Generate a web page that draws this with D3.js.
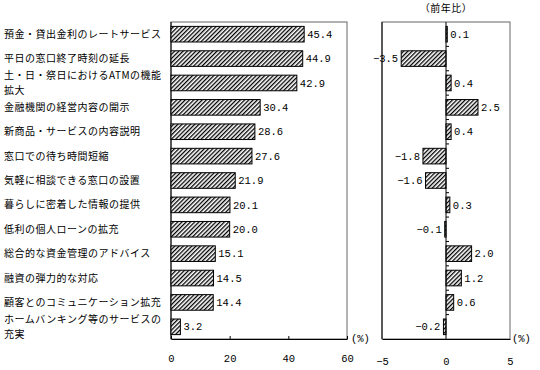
<!DOCTYPE html>
<html>
<head>
<meta charset="utf-8">
<script src="https://cdn.jsdelivr.net/npm/d3@7"></script>
<style>
  body { margin: 0; background: #fff; }
  .cat { font-family: "Noto Sans CJK JP", sans-serif; font-size: 10px; letter-spacing: 0.5px; }
  .num { font-family: "Liberation Mono", "DejaVu Sans Mono", monospace; font-size: 10.5px; }
</style>
</head>
<body>
<svg id="chart" width="540" height="370"></svg>
<script>
// categories (multi-line labels split into lines)
const categories = [
  ["預金・貸出金利のレートサービス"],
  ["平日の窓口終了時刻の延長"],
  ["土・日・祭日におけるATMの機能", "拡大"],
  ["金融機関の経営内容の開示"],
  ["新商品・サービスの内容説明"],
  ["窓口での待ち時間短縮"],
  ["気軽に相談できる窓口の設置"],
  ["暮らしに密着した情報の提供"],
  ["低利の個人ローンの拡充"],
  ["総合的な資金管理のアドバイス"],
  ["融資の弾力的な対応"],
  ["顧客とのコミュニケーション拡充"],
  ["ホームバンキング等のサービスの", "充実"]
];
const shares = [45.4, 44.9, 42.9, 30.4, 28.6, 27.6, 21.9, 20.1, 20.0, 15.1, 14.5, 14.4, 3.2];
const changes = [0.1, -3.5, 0.4, 2.5, 0.4, -1.8, -1.6, 0.3, -0.1, 2.0, 1.2, 0.6, -0.2];
const leftTicks = [0, 20, 40, 60];
const rightTicks = [-5, 0, 5];

const svg = d3.select("#chart");
const plotTop = 22, plotBottom = 339;
const idx = d3.range(categories.length);
const lineGap = 14.6;

// hatch pattern
svg.append("defs").append("pattern")
  .attr("id", "hatch")
  .attr("patternUnits", "userSpaceOnUse")
  .attr("width", 3).attr("height", 3)
  .attr("patternTransform", "rotate(45)")
  .call(p => {
    p.append("rect").attr("width", 3).attr("height", 3).attr("fill", "#fff");
    p.append("rect").attr("width", 1.3).attr("height", 3).attr("fill", "#000");
  });

const y = d3.scaleBand().domain(idx).range([plotTop, plotBottom]).paddingInner(0.36).paddingOuter(0.18);

// ---- left chart
const x1 = d3.scaleLinear().domain([0, 60]).range([171, 347]);

svg.append("rect")
  .attr("x", x1(0)).attr("y", plotTop)
  .attr("width", x1(60) - x1(0)).attr("height", plotBottom - plotTop)
  .attr("fill", "none").attr("stroke", "#666").attr("stroke-width", 1);

svg.append("g")
  .attr("transform", "translate(0," + plotBottom + ")")
  .call(d3.axisBottom(x1).tickValues(leftTicks).tickSizeInner(-3).tickSizeOuter(0).tickPadding(16))
  .call(g => g.select(".domain").attr("stroke", "#000"))
  .call(g => g.selectAll("text").attr("class", "num").attr("font-size", null).attr("font-family", null).attr("fill", "#000"));

svg.append("line")
  .attr("x1", x1(0)).attr("x2", x1(0)).attr("y1", plotTop).attr("y2", plotBottom)
  .attr("stroke", "#000");

svg.selectAll(".bar1")
  .data(idx)
  .enter()
  .append("rect")
  .attr("x", x1(0))
  .attr("y", i => y(i))
  .attr("width", i => x1(shares[i]) - x1(0))
  .attr("height", y.bandwidth())
  .attr("fill", "url(#hatch)")
  .attr("stroke", "#000")
  .attr("stroke-width", 1);

svg.selectAll(".val1")
  .data(idx)
  .enter()
  .append("text")
  .attr("class", "num")
  .attr("x", i => x1(shares[i]) + 3)
  .attr("y", i => y(i) + y.bandwidth() / 2)
  .attr("dy", "0.35em")
  .text(i => shares[i].toFixed(1));

// category labels, one text per line
idx.forEach(i => {
  const lines = categories[i];
  lines.forEach((line, k) => {
    svg.append("text")
      .attr("class", "cat")
      .attr("x", 4)
      .attr("y", y(i) + y.bandwidth() / 2 + (k - (lines.length - 1) / 2) * lineGap)
      .attr("dy", "0.35em")
      .text(line);
  });
});

svg.append("text").attr("class", "num")
  .attr("x", 351).attr("y", plotBottom + 3).text("(%)");

// ---- right chart
const x2 = d3.scaleLinear().domain([-5, 5]).range([382, 510]);

svg.append("rect")
  .attr("x", x2(-5)).attr("y", plotTop)
  .attr("width", x2(5) - x2(-5)).attr("height", plotBottom - plotTop)
  .attr("fill", "none").attr("stroke", "#666").attr("stroke-width", 1);

svg.append("g")
  .attr("transform", "translate(0," + plotBottom + ")")
  .call(d3.axisBottom(x2).tickValues(rightTicks).tickSizeInner(0).tickSizeOuter(0).tickPadding(19)
    .tickFormat(d => d < 0 ? "−" + Math.abs(d) : d))
  .call(g => g.select(".domain").attr("stroke", "#000"))
  .call(g => g.selectAll("text").attr("class", "num").attr("font-size", null).attr("font-family", null).attr("fill", "#000"));

svg.append("line")
  .attr("x1", x2(-5)).attr("x2", x2(-5)).attr("y1", plotTop).attr("y2", plotBottom)
  .attr("stroke", "#000");

svg.selectAll(".bar2")
  .data(idx)
  .enter()
  .append("rect")
  .attr("x", i => x2(Math.min(0, changes[i])))
  .attr("y", i => y(i))
  .attr("width", i => Math.abs(x2(changes[i]) - x2(0)))
  .attr("height", y.bandwidth())
  .attr("fill", "url(#hatch)")
  .attr("stroke", "#000")
  .attr("stroke-width", 1);

// zero axis with boundary ticks
svg.append("line")
  .attr("x1", x2(0)).attr("x2", x2(0)).attr("y1", plotTop).attr("y2", plotBottom)
  .attr("stroke", "#000");
svg.selectAll(".ztick")
  .data(d3.range(1, categories.length))
  .enter()
  .append("line")
  .attr("x1", x2(0)).attr("x2", x2(0) + 3)
  .attr("y1", i => y(i) - y.step() * y.paddingInner() / 2)
  .attr("y2", i => y(i) - y.step() * y.paddingInner() / 2)
  .attr("stroke", "#000");

svg.selectAll(".val2")
  .data(idx)
  .enter()
  .append("text")
  .attr("class", "num")
  .attr("x", i => changes[i] >= 0 ? x2(changes[i]) + 3 : x2(changes[i]) - 3)
  .attr("y", i => y(i) + y.bandwidth() / 2)
  .attr("dy", "0.35em")
  .attr("text-anchor", i => changes[i] >= 0 ? "start" : "end")
  .text(i => (changes[i] < 0 ? "−" : "") + Math.abs(changes[i]).toFixed(1));

svg.append("text").attr("class", "num")
  .attr("x", 512).attr("y", plotBottom + 3).text("(%)");

svg.append("text")
  .attr("class", "cat")
  .attr("x", x2(0)).attr("y", 12)
  .attr("text-anchor", "middle")
  .text("（前年比）");
</script>
</body>
</html>
